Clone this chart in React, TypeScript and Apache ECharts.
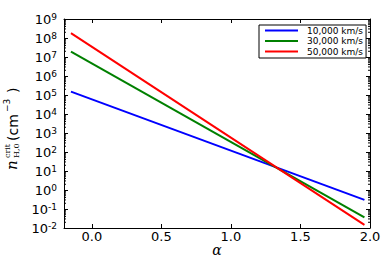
import React, { useEffect, useRef } from "react";
import * as echarts from "echarts";

// Series data: alpha (x) and critical density (y), straight lines in log space
const SERIES_NAMES = ["10,000 km/s", "30,000 km/s", "50,000 km/s"];
const SERIES_COLORS = ["#0000ff", "#008000", "#ff0000"];
const ALPHA = [-0.15, 1.96];
const N_10K = [1.5e5, 0.3];
const N_30K = [1.9e7, 0.036];
const N_50K = [1.8e8, 0.0145];

const X_TICKS = [0, 0.5, 1.0, 1.5, 2.0];
const Y_MIN = 0.01;
const Y_MAX = 1e9;
const MINOR_MULTIPLIERS = [2, 3, 4, 5, 6, 7, 8, 9];
const DECADES = [-2, -1, 0, 1, 2, 3, 4, 5, 6, 7, 8];

const FONT = "DejaVu Sans";

export default function App() {
  const ref = useRef<HTMLDivElement>(null);
  useEffect(() => {
    if (!ref.current) return;
    const chart = echarts.init(ref.current, undefined, { renderer: "svg" });
    const seriesVals = [N_10K, N_30K, N_50K];
    const minorData: number[][] = [];
    DECADES.forEach((d) =>
      MINOR_MULTIPLIERS.forEach((m) => minorData.push([0, m * Math.pow(10, d)]))
    );
    const tickStyle = { show: true, inside: true, length: 4, lineStyle: { color: "#000", width: 1 } };
    const axisLine = { show: true, onZero: false, lineStyle: { color: "#000", width: 1 } };
    chart.setOption({
      animation: false,
      backgroundColor: "#fff",
      grid: { left: 64, top: 19, right: 20, bottom: 32, containLabel: false, outerBoundsMode: "none" },
      xAxis: [
        {
          type: "value",
          min: -0.2,
          max: 2.0,
          position: "bottom",
          axisLine,
          axisTick: { ...tickStyle, customValues: X_TICKS },
          axisLabel: {
            customValues: X_TICKS,
            formatter: (v: number) => v.toFixed(1),
            fontSize: 13,
            fontFamily: FONT,
            color: "#000",
            margin: 2,
          },
          splitLine: { show: false },
        },
        {
          type: "value",
          min: -0.2,
          max: 2.0,
          position: "top",
          axisLine,
          axisTick: { ...tickStyle, customValues: X_TICKS },
          axisLabel: { show: false },
          splitLine: { show: false },
        },
      ],
      yAxis: [
        {
          type: "log",
          logBase: 10,
          min: Y_MIN,
          max: Y_MAX,
          interval: 1,
          position: "left",
          axisLine,
          axisTick: tickStyle,
          axisLabel: {
            margin: 7,
            hideOverlap: false,
            showMinLabel: true,
            showMaxLabel: true,
            formatter: (v: number) => `{b|10}{e|${Math.round(Math.log10(v))}}`,
            rich: {
              b: { fontSize: 13, lineHeight: 13, fontFamily: FONT, color: "#000", padding: [5, 0, 0, 0], verticalAlign: "bottom" },
              e: { fontSize: 9, lineHeight: 9, fontFamily: FONT, color: "#000", verticalAlign: "top" },
            },
          },
          splitLine: { show: false },
          minorTick: { show: false },
        },
        {
          type: "log",
          logBase: 10,
          min: Y_MIN,
          max: Y_MAX,
          interval: 1,
          position: "right",
          axisLine,
          axisTick: tickStyle,
          axisLabel: { show: false },
          splitLine: { show: false },
        },
      ],
      legend: {
        data: SERIES_NAMES,
        orient: "vertical",
        left: 259,
        top: 25,
        icon: "rect",
        backgroundColor: "#fff",
        borderColor: "#000",
        borderWidth: 1,
        borderRadius: 0,
        padding: [1, 3, 2, 6],
        itemWidth: 33,
        itemHeight: 2,
        itemGap: 1.5,
        textStyle: { fontSize: 9, fontFamily: FONT, color: "#000", padding: [0, 0, 0, 4] },
      },
      graphic: [
        {
          type: "text",
          x: 217,
          y: 250,
          style: { text: "α", font: "italic 14px 'DejaVu Serif'", fill: "#000", align: "center", verticalAlign: "middle" },
        },
        {
          type: "group",
          x: 17,
          y: 170,
          rotation: Math.PI / 2,
          children: [
            { type: "text", x: 0, y: 2, style: { text: "n", font: "italic 15px 'DejaVu Serif'", fill: "#000", verticalAlign: "bottom" } },
            { type: "text", x: 12, y: -6, style: { text: "crit", font: "8px 'DejaVu Serif'", fill: "#000", verticalAlign: "bottom" } },
            { type: "text", x: 12, y: 3, style: { text: "H,0", font: "8px 'DejaVu Serif'", fill: "#000", verticalAlign: "bottom" } },
            { type: "text", x: 29, y: 3, style: { text: "(cm", font: "14px 'DejaVu Sans'", fill: "#000", verticalAlign: "bottom" } },
            { type: "text", x: 58, y: -6, style: { text: "−3", font: "9px 'DejaVu Sans'", fill: "#000", verticalAlign: "bottom" } },
            { type: "text", x: 77, y: 3, style: { text: ")", font: "14px 'DejaVu Sans'", fill: "#000", verticalAlign: "bottom" } },
          ],
        },
      ],
      series: [
        ...seriesVals.map((vals, i) => ({
          name: SERIES_NAMES[i],
          type: "line",
          xAxisIndex: 0,
          yAxisIndex: 0,
          symbol: "none",
          color: SERIES_COLORS[i],
          itemStyle: { color: SERIES_COLORS[i] },
          lineStyle: { color: SERIES_COLORS[i], width: 2 },
          data: ALPHA.map((a, j) => [a, vals[j]]),
        })),
        {
          type: "custom",
          name: "minor",
          silent: true,
          clip: false,
          xAxisIndex: 0,
          yAxisIndex: 0,
          data: minorData,
          renderItem: (params: any, api: any) => {
            const p = api.coord([0, api.value(1)]);
            const cs = params.coordSys;
            return {
              type: "group",
              children: [
                { type: "line", shape: { x1: cs.x, y1: p[1], x2: cs.x + 2, y2: p[1] }, style: { stroke: "#000", lineWidth: 1 } },
                { type: "line", shape: { x1: cs.x + cs.width, y1: p[1], x2: cs.x + cs.width - 2, y2: p[1] }, style: { stroke: "#000", lineWidth: 1 } },
              ],
            };
          },
        },
      ],
    });
    return () => chart.dispose();
  }, []);
  return <div ref={ref} style={{ position: "absolute", left: 0, top: 0, width: 390, height: 260, background: "#fff" }} />;
}
